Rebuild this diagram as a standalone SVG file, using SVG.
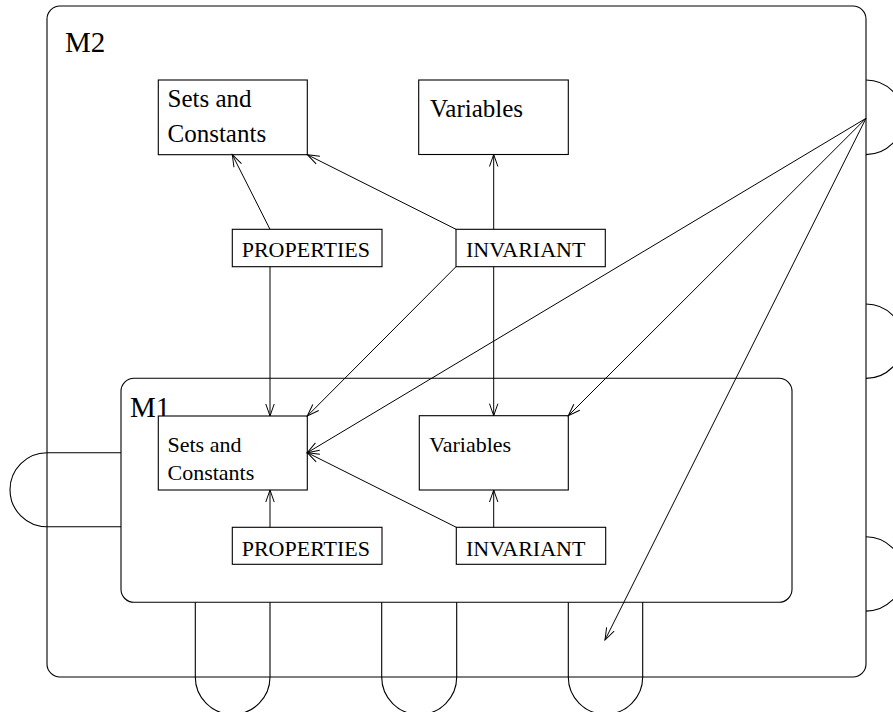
<svg xmlns="http://www.w3.org/2000/svg" width="893" height="712" viewBox="0 0 893 712">
  <style>
    .frame { fill: none; stroke: #000; stroke-width: 1.1; }
    .box { fill: #fff; stroke: #000; stroke-width: 1.1; }
    .edge { fill: none; stroke: #000; stroke-width: 1; marker-end: url(#open); }
    .bump { fill: none; stroke: #000; stroke-width: 1.1; }
    .title { font-family: "Liberation Serif", "Times New Roman", serif; font-size: 29px; fill: #000; }
    .big { font-family: "Liberation Serif", "Times New Roman", serif; font-size: 25px; fill: #000; }
    .small { font-family: "Liberation Serif", "Times New Roman", serif; font-size: 22px; fill: #000; }
  </style>
  <defs>
    <marker id="open" markerUnits="userSpaceOnUse" markerWidth="16" markerHeight="12" viewBox="-14 -6 16 12" refX="0" refY="0" orient="auto">
      <polyline points="-12,-4.2 0,0 -12,4.2" fill="none" stroke="#000" stroke-width="1"/>
    </marker>
  </defs>
  <rect width="893" height="712" fill="#fff"/>

  <!-- Module M2 -->
  <g id="m2">
    <rect class="frame" x="47" y="6" width="819" height="671" rx="13" ry="13"/>
    <text class="title" x="65" y="52">M2</text>
    <!-- side bumps on the right edge -->
    <path class="bump" d="M866,80 A37.3,37.3 0 0 1 866,154.6"/>
    <path class="bump" d="M866,304 A37.2,37.2 0 0 1 866,378.4"/>
    <path class="bump" d="M866,536.7 A37.2,37.2 0 0 1 866,611.1"/>
  </g>

  <!-- Module M1 -->
  <g id="m1">
    <rect class="frame" x="121" y="378.3" width="671" height="224" rx="13" ry="13"/>
    <text class="title" x="130" y="416.5">M1</text>
  </g>

  <!-- links between M1 and M2 -->
  <g id="links">
    <path class="bump" d="M121,452.7 H47 M121,526.7 H47 M47,452.7 A37,37 0 0 0 47,526.7"/>
    <path class="bump" d="M195.3,602.3 V677 A37.35,37.35 0 0 0 270,677 V602.3"/>
    <path class="bump" d="M381.7,602.3 V677 A37.5,37.5 0 0 0 456.7,677 V602.3"/>
    <path class="bump" d="M568.3,602.3 V677 A37.2,37.2 0 0 0 642.7,677 V602.3"/>
  </g>

  <!-- M2 contents -->
  <g id="m2-sets">
    <rect class="box" x="158.3" y="80" width="149" height="74.7"/>
    <text class="big" x="167.5" y="107">Sets and</text>
    <text class="big" x="167.5" y="141.5">Constants</text>
  </g>
  <g id="m2-vars">
    <rect class="box" x="418.7" y="80" width="149.6" height="74.5"/>
    <text class="big" x="430" y="117.3">Variables</text>
  </g>
  <g id="m2-props">
    <rect class="box" x="232.3" y="229.3" width="149.7" height="37.4"/>
    <text class="small" x="241.7" y="257.2">PROPERTIES</text>
  </g>
  <g id="m2-inv">
    <rect class="box" x="456" y="229.3" width="149.3" height="37.4"/>
    <text class="small" x="466" y="256.7">INVARIANT</text>
  </g>

  <!-- M1 contents -->
  <g id="m1-sets">
    <rect class="box" x="158.3" y="416" width="149" height="74"/>
    <text class="small" x="167.5" y="451.7">Sets and</text>
    <text class="small" x="167.5" y="480">Constants</text>
  </g>
  <g id="m1-vars">
    <rect class="box" x="419.3" y="415.7" width="149" height="74.3"/>
    <text class="small" x="429.3" y="452.3">Variables</text>
  </g>
  <g id="m1-props">
    <rect class="box" x="232.3" y="527.3" width="149.7" height="37"/>
    <text class="small" x="241.7" y="555.7">PROPERTIES</text>
  </g>
  <g id="m1-inv">
    <rect class="box" x="456.3" y="527.3" width="149.4" height="37"/>
    <text class="small" x="466" y="555.7">INVARIANT</text>
  </g>

  <!-- connectors -->
  <g id="connectors">
    <line class="edge" x1="270" y1="229.3" x2="232.3" y2="154.7"/>
    <line class="edge" x1="456" y1="229.3" x2="307.3" y2="154.7"/>
    <line class="edge" x1="493.7" y1="229.3" x2="493.7" y2="154.5"/>
    <line class="edge" x1="270" y1="266.7" x2="270" y2="416"/>
    <line class="edge" x1="456" y1="266.7" x2="307.3" y2="416"/>
    <line class="edge" x1="493.7" y1="266.7" x2="493.7" y2="415.7"/>
    <line class="edge" x1="270" y1="527.3" x2="270" y2="490"/>
    <line class="edge" x1="493.7" y1="527.3" x2="493.7" y2="490"/>
    <line class="edge" x1="456.3" y1="527.3" x2="307.3" y2="452.7"/>
    <line class="edge" x1="866" y1="118.3" x2="307.3" y2="452.7"/>
    <line class="edge" x1="866" y1="118.3" x2="568.3" y2="415.7"/>
    <line class="edge" x1="866" y1="118.3" x2="605" y2="640"/>
  </g>
</svg>
